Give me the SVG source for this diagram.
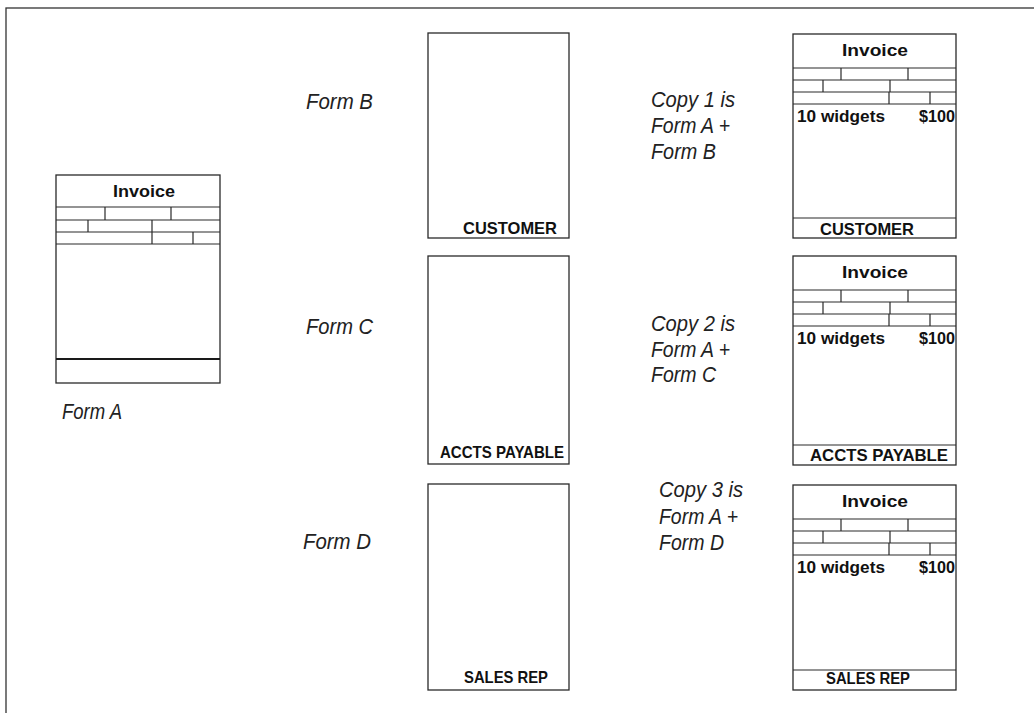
<svg xmlns="http://www.w3.org/2000/svg" xmlns:xlink="http://www.w3.org/1999/xlink" width="1034" height="713" viewBox="0 0 1034 713">
<style>
.bx{fill:#fff;stroke:#2a2a2a;stroke-width:1.3}
.ln{stroke:#2a2a2a;stroke-width:1.2;fill:none}
.thk{stroke:#1a1a1a;stroke-width:2.2;fill:none}
.lbl{font-family:"Liberation Sans",Arial,sans-serif;font-weight:bold;font-size:16.5px;fill:#111}
.inv{font-family:"Liberation Sans",Arial,sans-serif;font-weight:bold;font-size:17px;fill:#111;text-anchor:middle}
.it{font-family:"Liberation Sans",Arial,sans-serif;font-style:italic;font-size:22px;fill:#222}
</style>
<defs>
<g id="hdr">
<path class="ln" d="M0 34H163M0 46H163M0 58H163M0 70H163M48 34V46M115 34V46M30 46V58M97 46V58M96 58V70M137 58V70"/>
<text class="inv" x="82" y="22" textLength="66" lengthAdjust="spacingAndGlyphs">Invoice</text>
</g>
<g id="wid">
<text class="lbl" x="4" y="88" textLength="88" lengthAdjust="spacingAndGlyphs">10 widgets</text>
<text class="lbl" x="126" y="88" textLength="36" lengthAdjust="spacingAndGlyphs">$100</text>
</g>
</defs>
<rect x="6" y="8" width="1200" height="800" fill="none" stroke="#333" stroke-width="1.3"/>

<g id="formA">
<rect class="bx" x="56" y="175" width="164" height="208"/>
<path class="ln" d="M56 207H220M56 220H220M56 232H220M56 244H220M105 207V220M171 207V220M88 220V232M152 220V232M152 232V244M193 232V244"/>
<path class="thk" d="M56 359H220"/>
<text class="inv" x="144" y="197" textLength="62" lengthAdjust="spacingAndGlyphs">Invoice</text>
</g>
<text class="it" x="62" y="419" textLength="60" lengthAdjust="spacingAndGlyphs">Form A</text>

<g id="formB">
<rect class="bx" x="428" y="33" width="141" height="205"/>
<text class="lbl" x="463" y="234" textLength="94" lengthAdjust="spacingAndGlyphs">CUSTOMER</text>
</g>
<text class="it" x="306" y="109" textLength="67" lengthAdjust="spacingAndGlyphs">Form B</text>

<g id="formC">
<rect class="bx" x="428" y="256" width="141" height="208"/>
<text class="lbl" x="440" y="458" textLength="124" lengthAdjust="spacingAndGlyphs">ACCTS PAYABLE</text>
</g>
<text class="it" x="306" y="334" textLength="67" lengthAdjust="spacingAndGlyphs">Form C</text>

<g id="formD">
<rect class="bx" x="428" y="484" width="141" height="206"/>
<text class="lbl" x="464" y="683" textLength="84" lengthAdjust="spacingAndGlyphs">SALES REP</text>
</g>
<text class="it" x="303" y="549" textLength="68" lengthAdjust="spacingAndGlyphs">Form D</text>

<g id="copy1" transform="translate(793,34)">
<rect class="bx" x="0" y="0" width="163" height="204"/>
<use xlink:href="#hdr"/>
<use xlink:href="#wid"/>
<path class="ln" d="M0 184H163"/>
<text class="lbl" x="27" y="201" textLength="94" lengthAdjust="spacingAndGlyphs">CUSTOMER</text>
</g>
<g id="copy1label">
<text class="it" x="651" y="107" textLength="84" lengthAdjust="spacingAndGlyphs">Copy 1 is</text>
<text class="it" x="651" y="133" textLength="79" lengthAdjust="spacingAndGlyphs">Form A +</text>
<text class="it" x="651" y="159" textLength="65" lengthAdjust="spacingAndGlyphs">Form B</text>
</g>

<g id="copy2" transform="translate(793,256)">
<rect class="bx" x="0" y="0" width="163" height="209"/>
<use xlink:href="#hdr"/>
<use xlink:href="#wid"/>
<path class="ln" d="M0 189H163"/>
<text class="lbl" x="17" y="205" textLength="138" lengthAdjust="spacingAndGlyphs">ACCTS PAYABLE</text>
</g>
<g id="copy2label">
<text class="it" x="651" y="331" textLength="84" lengthAdjust="spacingAndGlyphs">Copy 2 is</text>
<text class="it" x="651" y="357" textLength="79" lengthAdjust="spacingAndGlyphs">Form A +</text>
<text class="it" x="651" y="382" textLength="65" lengthAdjust="spacingAndGlyphs">Form C</text>
</g>

<g id="copy3" transform="translate(793,485)">
<rect class="bx" x="0" y="0" width="163" height="205"/>
<use xlink:href="#hdr"/>
<use xlink:href="#wid"/>
<path class="ln" d="M0 185H163"/>
<text class="lbl" x="33" y="199" textLength="84" lengthAdjust="spacingAndGlyphs">SALES REP</text>
</g>
<g id="copy3label">
<text class="it" x="659" y="497" textLength="84" lengthAdjust="spacingAndGlyphs">Copy 3 is</text>
<text class="it" x="659" y="524" textLength="79" lengthAdjust="spacingAndGlyphs">Form A +</text>
<text class="it" x="659" y="550" textLength="65" lengthAdjust="spacingAndGlyphs">Form D</text>
</g>
</svg>
